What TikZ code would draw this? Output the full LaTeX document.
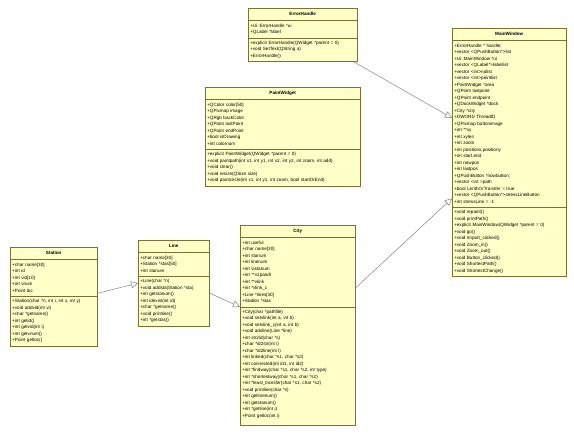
\documentclass[tikz,border=0pt]{standalone}
\usepackage{fontspec}
\setmainfont{Liberation Sans}
\usetikzlibrary{shapes.multipart, arrows.meta}

\definecolor{classfill}{RGB}{255,255,200}
\definecolor{classline}{RGB}{125,112,48}
\definecolor{linkgray}{RGB}{130,130,130}

% one line of a class compartment
\newcommand{\ml}{\rule[-2pt]{0pt}{6.5pt}}
\newcommand{\ctitle}[1]{\rule[-2.8pt]{0pt}{8.4pt}\hspace*{\fill}\textbf{#1}\hspace*{\fill}\null}

\begin{document}
\begin{tikzpicture}[x=1pt, y=-1pt,
    umlclass/.style={rectangle split, rectangle split parts=3, anchor=north west,
      draw=classline, fill=classfill, line width=0.5pt, align=left,
      inner xsep=2pt, inner ysep=1.8pt, font=\fontsize{4.6}{6.5}\selectfont},
    inherit/.style={draw=linkgray, line width=0.5pt, -{Triangle[open, length=7pt, width=7pt]}}]
  \useasboundingbox (0,0) rectangle (574,435);

  % ErrorHandle
  \node[umlclass, text width=105pt] (eh) at (248,8) {\ctitle{ErrorHandle}
    \nodepart{two}\ml+Ui::ErrorHandle *ui\\\ml+QLabel *label
    \nodepart{three}\ml+explicit ErrorHandle(QWidget *parent = 0)\\\ml+void SetText(QString a)\\\ml+ErrorHandle()};

  % PaintWidget
  \node[umlclass, text width=151pt] (pw) at (205,87) {\ctitle{PaintWidget}
    \nodepart{two}\ml+QColor color[50]\\\ml+QPixmap image\\\ml+QRgb backColor\\\ml+QPoint lastPoint\\
    \ml+QPoint endPoint\\\ml+bool isDrawing\\\ml+int colornum
    \nodepart{three}\ml+explicit PaintWidget(QWidget *parent = 0)\\
    \ml+void paintpath(int x1, int y1, int x2, int y2, int zoom, int add)\\\ml+void clear()\\
    \ml+void resize(QSize size)\\\ml+void paintcircle(int x1, int y1, int zoom, bool startOrEnd)};

  % MainWindow
  \node[umlclass, text width=110pt] (mw) at (452,28) {\ctitle{MainWindow}
    \nodepart{two}\ml+ErrorHandle * handle;\\\ml+vector <QPushButton*>list\\\ml+Ui::MainWindow *ui\\
    \ml+vector <QLabel*>labellist\\\ml+vector <int>nolist\\\ml+vector <int>pointlist\\
    \ml+PaintWidget *area\\\ml+QPoint lastpoint\\\ml+QPoint endpoint\\\ml+QDockWidget *dock\\
    \ml+City *city\\\ml+DWORD ThreadID\\\ml+QPixmap buttonimage\\\ml+int **xy\\\ml+int xylen\\
    \ml+int zoom\\\ml+int positionx,positiony\\\ml+int start,end\\\ml+int nowpos\\\ml+int lastpos\\
    \ml+QPushButton *nowbutton;\\\ml+vector <int >path\\\ml+bool LenthOrTransfer = true\\
    \ml+vector <QPushButton*>stressLineButton\\\ml+int stressLine = -1
    \nodepart{three}\ml+void repaint()\\\ml+void printPath()\\\ml+explicit MainWindow(QWidget *parent = 0)\\
    \ml+void go()\\\ml+void Import\_clicked()\\\ml+void Zoom\_in()\\\ml+void Zoom\_out()\\
    \ml+void Button\_clicked()\\\ml+void ShortestPath()\\\ml+void ShortestChange()};

  % Station
  \node[umlclass, text width=83pt] (st) at (10,247) {\ctitle{Station}
    \nodepart{two}\ml+char name[30]\\\ml+int id\\\ml+int vid[10]\\\ml+int vnum\\\ml+Point loc
    \nodepart{three}\ml+Station(char *n, int i, int x, int y)\\\ml+void addvid(int vi)\\\ml+char *getname()\\
    \ml+int getid()\\\ml+int getvid(int i)\\\ml+int getvnum()\\\ml+Point getloc()};

  % Line
  \node[umlclass, text width=67pt] (ln) at (138,240) {\ctitle{Line}
    \nodepart{two}\ml+char name[30]\\\ml+Station *stas[50]\\\ml+int stanum
    \nodepart{three}\ml+Line(char *n)\\\ml+void addsta(Station *sta)\\\ml+int getstanum()\\
    \ml+int idexist(int id)\\\ml+char *getname()\\\ml+void printline()\\\ml+int *getstas()};

  % City
  \node[umlclass, text width=111pt] (ct) at (240,225) {\ctitle{City}
    \nodepart{two}\ml+int useful\\\ml+char name[30]\\\ml+int stanum\\\ml+int linenum\\\ml+int vistanum\\
    \ml+int **v2pandl\\\ml+int **vlink\\\ml+int *vlink\_c\\\ml+Line *lines[30]\\\ml+Station *stas
    \nodepart{three}\ml+City(char *pathfile)\\\ml+void setvlink(int a, int b)\\\ml+void setvlink\_c(int a, int b)\\
    \ml+void addline(Line *line)\\\ml+int str2id(char *s)\\\ml+char *id2str(int i)\\\ml+char *id2line(int i)\\
    \ml+int linked(char *s1, char *s2)\\\ml+int connected(int id1, int id2)\\
    \ml+int *findway(char *s1, char *s2, int type)\\\ml+int *shortestway(char *s1, char *s2)\\
    \ml+int *least\_transfer(char *s1, char *s2)\\\ml+void printline(char *s)\\\ml+int getlinenum()\\
    \ml+int getstanum()\\\ml+int *getline(int i)\\\ml+Point getloc(int i)\rule[-6pt]{0pt}{1pt}};

  % generalizations
  \draw[inherit] ([yshift=3pt]st.two split east) -- (ln.west);
  \draw[inherit] ([yshift=-10pt]ln.east) -- (ct.two split west);
  \draw[inherit] ([yshift=-63pt]ct.north east) -- ([yshift=9pt]mw.two split west);
  \draw[inherit] ([xshift=-4pt]eh.south east) -- ([yshift=-90pt]mw.north west);
\end{tikzpicture}
\end{document}
